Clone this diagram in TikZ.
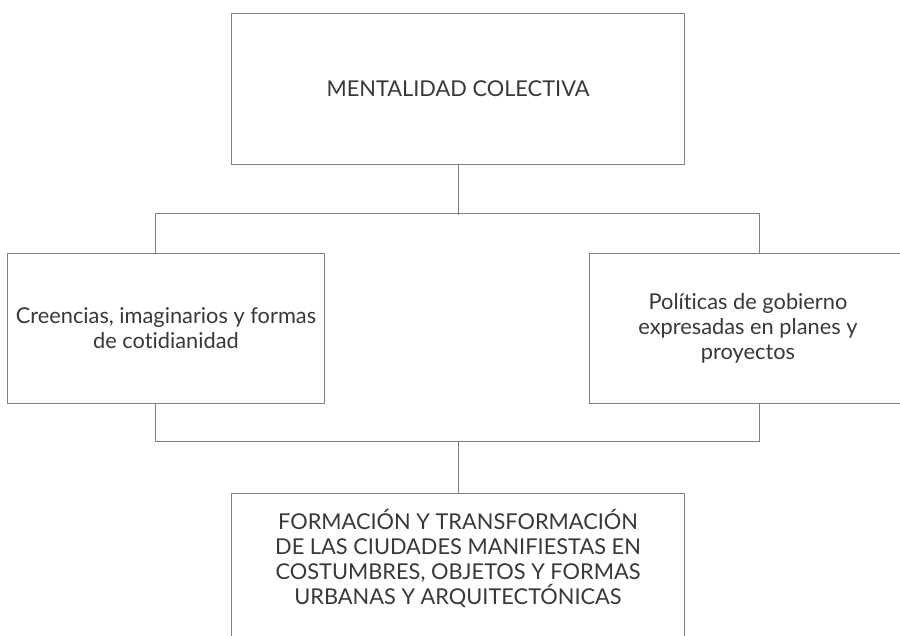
\documentclass[tikz,border=0pt]{standalone}
\usepackage{fontspec}
\setmainfont{Lato}[Ligatures=NoCommon]
\usetikzlibrary{positioning}
\begin{document}
\begin{tikzpicture}[x=0.025cm, y=-0.025cm, line width=0.7pt,
	box/.style = {shape=rectangle, draw=black!50, align=center, text=black!78, font=\fontsize{15.5}{17.8}\selectfont},
	link/.style = {draw=black!50}]
	\clip (0,0) rectangle (900,636);
	% boxes
	\node[box, minimum width=11.325cm, minimum height=3.75cm] (mental) at (458,89) {MENTALIDAD COLECTIVA};
	\node[box, minimum width=7.9cm, minimum height=3.725cm] (creencias) at (166,328.5) {Creencias, imaginarios y formas\\de cotidianidad};
	\node[box, minimum width=7.9cm, minimum height=3.725cm] (politicas) at (748,328.5) {Políticas de gobierno\\expresadas en planes y\\proyectos};
	\node[box, minimum width=11.3cm, minimum height=5cm, anchor=north] (formacion) at (458,493) {};
	\node[box, draw=none, anchor=north, yshift=-0.27cm] (formtxt) at (formacion.north) {FORMACIÓN Y TRANSFORMACIÓN\\DE LAS CIUDADES MANIFIESTAS EN\\COSTUMBRES, OBJETOS Y FORMAS\\URBANAS Y ARQUITECTÓNICAS};
	% connectors
	\draw[link] (mental.south) -- ++(0,50);
	\draw[link] ([xshift=-0.275cm]creencias.north) -- ++(0,-40) -| ([xshift=0.275cm]politicas.north);
	\draw[link] ([xshift=-0.275cm]creencias.south) -- ++(0,38) -| ([xshift=0.275cm]politicas.south);
	\draw[link] (formacion.north) -- ++(0,-52);
\end{tikzpicture}
\end{document}
